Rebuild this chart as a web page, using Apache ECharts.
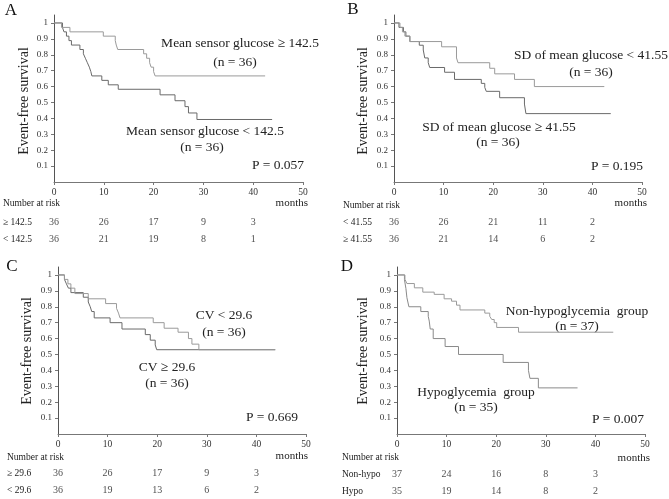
<!DOCTYPE html>
<html><head><meta charset="utf-8">
<script src="https://cdn.jsdelivr.net/npm/echarts@6/dist/echarts.min.js"></script>
<style>html,body{margin:0;padding:0;background:#fff}#c{width:669px;height:499px}</style>
</head><body><div id="c"></div>
<script>
// ---- data ----
const yTicks = [0.1,0.2,0.3,0.4,0.5,0.6,0.7,0.8,0.9,1];
const riskTimes = [0,10,20,30,40];

// Panel A
const aHigh = [[0,1],[1.5,0.972],[3.2,0.944],[9.9,0.917],[12.3,0.889],[12.5,0.861],[12.8,0.833],[18.0,0.806],[18.6,0.778],[19.2,0.75],[19.5,0.722],[20.0,0.694],[20.3,0.667],[42.4,0.667]];
const aLow = [[0,1],[1.7,0.972],[2.0,0.944],[2.5,0.917],[3.0,0.889],[3.5,0.861],[5.2,0.833],[5.9,0.806],[6.3,0.778],[6.7,0.75],[7.1,0.722],[7.4,0.694],[7.6,0.667],[9.6,0.639],[10.9,0.611],[12.9,0.583],[21.3,0.548],[24.3,0.511],[26.3,0.474],[27.0,0.434],[28.7,0.393],[43.8,0.393]];
const aRiskHigh = [36,26,17,9,3];
const aRiskLow = [36,21,19,8,1];

// Panel B
const bLow = [[0,1],[1.2,0.972],[1.7,0.944],[2.2,0.917],[3.2,0.883],[9.6,0.85],[12.6,0.78],[12.9,0.75],[19.3,0.715],[20.3,0.68],[24.3,0.645],[28.3,0.60],[42.4,0.60]];
const bHigh = [[0,1],[1.0,0.972],[1.9,0.944],[2.4,0.917],[3.2,0.883],[5.1,0.86],[5.9,0.83],[6.2,0.78],[6.9,0.75],[7.2,0.72],[10.2,0.69],[12.2,0.645],[17.6,0.62],[18.3,0.595],[18.6,0.57],[21.3,0.53],[26.3,0.49],[26.6,0.43],[43.7,0.43]];
const bRiskLow = [36,26,21,11,2];
const bRiskHigh = [36,21,14,6,2];

// Panel C
const cLow = [[0,1],[1.3,0.972],[2.0,0.944],[2.6,0.917],[3.4,0.883],[6.1,0.85],[9.6,0.82],[11.8,0.79],[12.2,0.76],[12.5,0.73],[19.2,0.70],[21.4,0.665],[24.2,0.64],[26.3,0.60],[27.0,0.565],[28.4,0.53],[43.8,0.53]];
const cHigh = [[0,1],[1.3,0.972],[1.7,0.944],[2.1,0.917],[2.6,0.889],[5.1,0.86],[6.1,0.83],[6.5,0.80],[6.8,0.77],[7.3,0.73],[10.5,0.70],[12.9,0.66],[17.6,0.625],[18.6,0.59],[19.6,0.56],[19.9,0.53],[43.8,0.53]];
const cRiskHigh = [36,26,17,9,3];
const cRiskLow = [36,19,13,6,2];

// Panel D
const dNonHypo = [[0,1],[1.6,0.973],[2.0,0.946],[3.5,0.919],[5.2,0.892],[7.5,0.878],[9.5,0.85],[11.0,0.835],[12.0,0.81],[12.7,0.78],[17.7,0.76],[18.7,0.74],[19.1,0.72],[19.6,0.70],[20.1,0.67],[24.5,0.64],[43.6,0.64]];
const dHypo = [[0,1],[1.5,0.971],[1.8,0.914],[2.0,0.857],[2.4,0.80],[4.8,0.77],[6.3,0.74],[6.5,0.71],[6.7,0.66],[7.3,0.60],[9.7,0.55],[12.4,0.50],[21.4,0.45],[26.5,0.40],[26.8,0.35],[28.5,0.29],[36.4,0.29]];
const dRiskNonHypo = [37,24,16,8,3];
const dRiskHypo = [35,19,14,8,2];

// ---- layout ----
const FONT = '"Liberation Serif", "Times New Roman", serif';
const panels = [
  {left:54, top:15, width:249, letter:'A', lx:11, ly:11, ylx:24, yly:101,
   curves:[aHigh,aLow], colors:['#9a9a9a','#6a6a6a'], risks:[aRiskHigh,aRiskLow], rowNames:['\u2265 142.5','< 142.5'],
   riskTop:213.5, nrX:3, nrY:203, moX:308, moY:203,
   texts:[['Mean sensor glucose \u2265 142.5',240,43],['(n = 36)',235,62],['Mean sensor glucose < 142.5',205,131],['(n = 36)',202,147],['P = 0.057',278,165]]},
  {left:394, top:15, width:248, letter:'B', lx:353, ly:10, ylx:363, yly:101,
   curves:[bLow,bHigh], colors:['#9a9a9a','#6a6a6a'], risks:[bRiskLow,bRiskHigh], rowNames:['< 41.55','\u2265 41.55'],
   riskTop:213.5, nrX:343, nrY:205, moX:647, moY:203,
   texts:[['SD of mean glucose < 41.55',591,55],['(n = 36)',591,72],['SD of mean glucose \u2265 41.55',499,127],['(n = 36)',498,142],['P = 0.195',617,166]]},
  {left:58, top:267, width:248, letter:'C', lx:12, ly:267, ylx:27, yly:351,
   curves:[cLow,cHigh], colors:['#9a9a9a','#6a6a6a'], risks:[cRiskHigh,cRiskLow], rowNames:['\u2265 29.6','< 29.6'],
   riskTop:465, nrX:7, nrY:457, moX:308, moY:456,
   texts:[['CV < 29.6',224,315],['(n = 36)',224,332],['CV \u2265 29.6',167,367],['(n = 36)',167,383],['P = 0.669',272,417]]},
  {left:397, top:267, width:248, letter:'D', lx:347, ly:267, ylx:363, yly:351,
   curves:[dNonHypo,dHypo], colors:['#9a9a9a','#8a8a8a'], risks:[dRiskNonHypo,dRiskHypo], rowNames:['Non-hypo','Hypo'],
   riskTop:465.5, nrX:342, nrY:457, moX:650, moY:458,
   texts:[['Non-hypoglycemia  group',577,311],['(n = 37)',577,326],['Hypoglycemia  group',476,392],['(n = 35)',476,407],['P = 0.007',618,419]]}
];

const grid = [], xAxis = [], yAxis = [], series = [], graphic = [];
panels.forEach((p, i) => {
  const gMain = grid.length;
  grid.push({left:p.left, top:p.top, width:p.width, height:167, outerBoundsMode:'none', containLabel:false});
  xAxis.push({gridIndex:gMain, type:'value', min:0, max:50, interval:10,
    axisLine:{lineStyle:{color:'#777', width:1}}, axisTick:{show:true, length:3, lineStyle:{color:'#777'}},
    splitLine:{show:false}, axisLabel:{fontFamily:FONT, fontSize:9.5, color:'#333', margin:5}});
  yAxis.push({gridIndex:gMain, type:'value', min:0, max:1.05,
    axisLine:{show:true, lineStyle:{color:'#555', width:1}},
    axisTick:{show:true, length:3, customValues:yTicks, lineStyle:{color:'#777'}},
    splitLine:{show:false},
    axisLabel:{customValues:yTicks, fontFamily:FONT, fontSize:9, color:'#333', margin:6,
      formatter:v => (Math.round(v*10)/10).toString()}});
  p.curves.forEach((c, k) => {
    series.push({type:'line', xAxisIndex:gMain, yAxisIndex:gMain, data:c, step:'end',
      showSymbol:false, symbol:'none', lineStyle:{width:1, color:p.colors[k]}, itemStyle:{color:p.colors[k]},
      z: 3 - k, silent:true});
  });
  const gRisk = grid.length;
  grid.push({left:p.left, top:p.riskTop, width:p.width, height:34, outerBoundsMode:'none', containLabel:false});
  xAxis.push({gridIndex:gRisk, type:'value', min:0, max:50, show:false});
  yAxis.push({gridIndex:gRisk, type:'value', min:-0.5, max:1.5, inverse:true, show:false});
  p.risks.forEach((r, k) => {
    series.push({type:'scatter', xAxisIndex:gRisk, yAxisIndex:gRisk, symbolSize:1,
      itemStyle:{color:'rgba(0,0,0,0)'}, silent:true,
      data: riskTimes.map((t, j) => [t, k, r[j]]),
      label:{show:true, position:'inside', formatter: q => String(q.value[2]), fontFamily:FONT, fontSize:10, color:'#222'}});
    graphic.push({type:'text', x:p.nrX, y:p.riskTop + 8.5 + 17*k,
      style:{text:p.rowNames[k], font:'9.5px ' + FONT, fill:'#222', textAlign:'left', textVerticalAlign:'middle'}});
  });
  graphic.push({type:'text', x:p.lx, y:p.ly, style:{text:p.letter, font:'17px ' + FONT, fill:'#111', textAlign:'center', textVerticalAlign:'middle'}});
  graphic.push({type:'text', x:p.ylx, y:p.yly, rotation:Math.PI/2,
    style:{text:'Event-free survival', font:'14px ' + FONT, fill:'#222', textAlign:'center', textVerticalAlign:'middle'}});
  graphic.push({type:'text', x:p.nrX, y:p.nrY, style:{text:'Number at risk', font:'9.5px ' + FONT, fill:'#222', textAlign:'left', textVerticalAlign:'middle'}});
  graphic.push({type:'text', x:p.moX, y:p.moY, style:{text:'months', font:'11px ' + FONT, fill:'#222', textAlign:'right', textVerticalAlign:'middle'}});
  p.texts.forEach(t => {
    graphic.push({type:'text', x:t[1], y:t[2], style:{text:t[0], font:'13.5px ' + FONT, fill:'#222', textAlign:'center', textVerticalAlign:'middle'}});
  });
});

const chart = echarts.init(document.getElementById('c'), null, {renderer:'canvas'});
chart.setOption({animation:false, backgroundColor:'#fff', grid, xAxis, yAxis, series, graphic});
</script></body></html>
